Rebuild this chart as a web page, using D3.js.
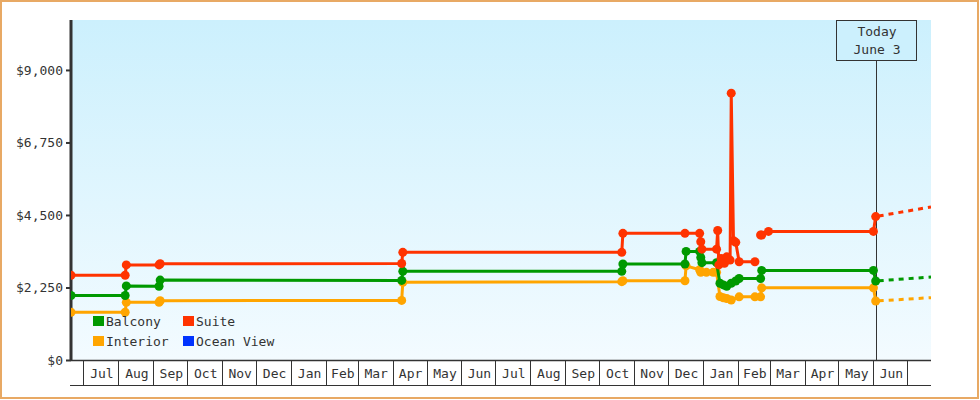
<!DOCTYPE html>
<html>
<head>
<meta charset="utf-8">
<script src="https://cdn.jsdelivr.net/npm/d3@7/dist/d3.min.js"></script>
<style>
  html, body { margin: 0; padding: 0; background: #fff; }
  svg { display: block; }
  text { font-family: "DejaVu Sans Mono", "Liberation Mono", monospace; font-size: 13px; fill: #333; }
</style>
</head>
<body>
<svg id="chart" width="980" height="400"></svg>
<script>
// ---------------- DATA ----------------
const seriesNames = ["Balcony", "Suite", "Interior", "Ocean View"];
const yTickValues = [0, 2250, 4500, 6750, 9000];
const domainStart = "2021-06-20";
const domainEnd = "2023-07-22";
const todayDate = "2023-06-03";
const todayLabel = ["Today", "June 3"];

const balcony = [
  ["2021-06-20", 2000], ["2021-08-07", 2000], ["2021-08-08", 2300],
  ["2021-09-06", 2290], ["2021-09-07", 2480], ["2022-04-09", 2470],
  ["2022-04-10", 2750], ["2022-10-21", 2750], ["2022-10-22", 2980],
  ["2022-12-16", 2980], ["2022-12-17", 3370], ["2022-12-29", 3370],
  ["2022-12-30", 3180], ["2022-12-31", 3020], ["2023-01-13", 3020],
  ["2023-01-16", 2380], ["2023-01-19", 2330], ["2023-01-22", 2290],
  ["2023-01-26", 2380], ["2023-01-30", 2450], ["2023-02-02", 2530],
  ["2023-02-21", 2530], ["2023-02-22", 2780], ["2023-06-01", 2780],
  ["2023-06-03", 2450]
];
const suite = [
  ["2021-06-20", 2630], ["2021-08-07", 2630], ["2021-08-08", 2950],
  ["2021-09-06", 2950], ["2021-09-07", 2985], ["2022-04-09", 2995],
  ["2022-04-10", 3340], ["2022-10-21", 3340], ["2022-10-22", 3930],
  ["2022-12-16", 3930], ["2022-12-29", 3930], ["2022-12-30", 3670],
  ["2022-12-31", 3440], ["2023-01-13", 3440], ["2023-01-14", 4020],
  ["2023-01-15", 2950], ["2023-01-17", 3150], ["2023-01-20", 3000],
  ["2023-01-22", 3200], ["2023-01-25", 3100], ["2023-01-26", 8280],
  ["2023-01-28", 3700], ["2023-01-30", 3650],
  ["2023-02-02", 3050], ["2023-02-16", 3050], ["2023-02-18", null],
  ["2023-02-21", 3880], ["2023-02-22", 3880], ["2023-02-28", 3990],
  ["2023-06-01", 3990], ["2023-06-03", 4450]
];
const interior = [
  ["2021-06-20", 1480], ["2021-08-07", 1480], ["2021-08-08", 1790],
  ["2021-09-06", 1790], ["2021-09-07", 1840], ["2022-04-09", 1850],
  ["2022-04-10", 2410], ["2022-10-21", 2430], ["2022-10-22", 2460],
  ["2022-12-16", 2460], ["2022-12-17", 2920], ["2022-12-29", 2800],
  ["2022-12-30", 2720], ["2023-01-04", 2720], ["2023-01-10", 2720],
  ["2023-01-13", 2720], ["2023-01-16", 1970], ["2023-01-19", 1930],
  ["2023-01-22", 1910], ["2023-01-26", 1860], ["2023-02-02", 1960],
  ["2023-02-16", 1960], ["2023-02-21", 1960], ["2023-02-22", 2240],
  ["2023-06-01", 2240], ["2023-06-03", 1830]
];
const oceanView = [];

const balconyForecast = [["2023-06-03", 2450], ["2023-07-22", 2576]];
const suiteForecast = [["2023-06-03", 4450], ["2023-07-22", 4750]];
const interiorForecast = [["2023-06-03", 1830], ["2023-07-22", 1934]];

// ---------------- STYLE ----------------
const colors = { "Balcony": "#009900", "Suite": "#ff3300", "Interior": "#ffa500", "Ocean View": "#0033ff" };
const parse = d3.utcParse("%Y-%m-%d");

const svg = d3.select("#chart");
const pLeft = 71, pRight = 931, pTop = 20, pBottom = 360;

const x = d3.scaleUtc().domain([parse(domainStart), parse(domainEnd)]).range([pLeft, pRight]);
const y = d3.scaleLinear().domain([0, 10550]).range([pBottom, pTop]);

// outer border
svg.append("rect").attr("x", 1).attr("y", 1).attr("width", 977).attr("height", 397)
  .attr("fill", "#fff").attr("stroke", "#e8a964").attr("stroke-width", 2);

// gradient background
const defs = svg.append("defs");
const grad = defs.append("linearGradient").attr("id", "bg").attr("x1", 0).attr("y1", 0).attr("x2", 0).attr("y2", 1);
grad.append("stop").attr("offset", "0%").attr("stop-color", "#ccf0fd");
grad.append("stop").attr("offset", "100%").attr("stop-color", "#f3fbff");
defs.append("clipPath").attr("id", "plotclip").append("rect")
  .attr("x", pLeft).attr("y", pTop).attr("width", pRight - pLeft).attr("height", pBottom - pTop);

svg.append("rect").attr("x", pLeft).attr("y", pTop).attr("width", pRight - pLeft).attr("height", pBottom - pTop)
  .attr("fill", "url(#bg)");

// Y axis
const yAxis = d3.axisLeft(y).tickValues(yTickValues).tickFormat(d3.format("$,")).tickSize(5).tickPadding(3);
const yg = svg.append("g").attr("transform", `translate(${pLeft},0)`).call(yAxis);
yg.select(".domain").remove();
yg.selectAll(".tick line").attr("stroke", "#333").attr("stroke-width", 2);
yg.selectAll(".tick text").attr("fill", "#333").style("font-family", '"DejaVu Sans Mono", monospace').style("font-size", "13px");
svg.append("line").attr("x1", pLeft).attr("x2", pLeft).attr("y1", pTop).attr("y2", pBottom + 1)
  .attr("stroke", "#333").attr("stroke-width", 3);

// X axis month boxes
const months = d3.utcMonth.range(d3.utcMonth.ceil(x.domain()[0]), x.domain()[1]);
const xg = svg.append("g");
xg.append("line").attr("x1", pLeft).attr("x2", pRight).attr("y1", pBottom + 0.5).attr("y2", pBottom + 0.5)
  .attr("stroke", "#333").attr("stroke-width", 1.5);
xg.append("line").attr("x1", pLeft - 1).attr("x2", pRight).attr("y1", 385.5).attr("y2", 385.5)
  .attr("stroke", "#333").attr("stroke-width", 1);
xg.selectAll("line.sep").data(months).join("line").attr("class", "sep")
  .attr("x1", d => Math.round(x(d)) + 0.5).attr("x2", d => Math.round(x(d)) + 0.5)
  .attr("y1", pBottom).attr("y2", 386).attr("stroke", "#333").attr("stroke-width", 1);
const fullMonths = months.filter(m => d3.utcMonth.offset(m, 1) <= x.domain()[1]);
xg.selectAll("text.mon").data(fullMonths).join("text").attr("class", "mon")
  .attr("x", d => (x(d) + x(d3.utcMonth.offset(d, 1))) / 2 + 1)
  .attr("y", 378).attr("text-anchor", "middle")
  .text(d => d3.utcFormat("%b")(d));

// Today marker
const tx = Math.round(x(parse(todayDate))) + 0.5;
svg.append("line").attr("x1", tx).attr("x2", tx).attr("y1", 60).attr("y2", pBottom)
  .attr("stroke", "#333").attr("stroke-width", 1);
svg.append("rect").attr("x", 836.5).attr("y", 20.5).attr("width", 80).attr("height", 40)
  .attr("fill", "#ccf0fd").attr("stroke", "#333").attr("stroke-width", 1);
svg.selectAll("text.today").data(todayLabel).join("text").attr("class", "today")
  .attr("x", tx + 0.5).attr("y", (d, i) => 36 + i * 18).attr("text-anchor", "middle").text(d => d);

// Series
const plot = svg.append("g").attr("clip-path", "url(#plotclip)");
const line = d3.line().defined(d => d[1] != null).x(d => x(parse(d[0]))).y(d => y(d[1]));
const seriesData = [
  { name: "Interior", data: interior, fc: interiorForecast },
  { name: "Balcony", data: balcony, fc: balconyForecast },
  { name: "Suite", data: suite, fc: suiteForecast },
  { name: "Ocean View", data: oceanView, fc: [] }
];
seriesData.forEach(s => {
  const c = colors[s.name];
  if (s.fc.length) {
    plot.append("path").datum(s.fc).attr("d", line).attr("fill", "none")
      .attr("stroke", c).attr("stroke-width", 3).attr("stroke-dasharray", "5,5").attr("stroke-dashoffset", -3);
  }
  if (s.data.length) {
    plot.append("path").datum(s.data).attr("d", line).attr("fill", "none")
      .attr("stroke", c).attr("stroke-width", 3).attr("stroke-linejoin", "round");
    plot.selectAll(null).data(s.data.filter(d => d[1] != null)).join("circle")
      .attr("cx", d => x(parse(d[0]))).attr("cy", d => y(d[1])).attr("r", 4.5).attr("fill", c);
  }
});

// Legend
const legendPos = [[93, 316], [183, 316], [93, 336], [183, 336]];
const lg = svg.append("g");
seriesNames.forEach((n, i) => {
  const [lx, ly] = legendPos[i];
  lg.append("rect").attr("x", lx).attr("y", ly).attr("width", 11).attr("height", 10).attr("fill", colors[n]);
  lg.append("text").attr("x", lx + 13).attr("y", ly + 9.5).text(n);
});
</script>
</body>
</html>
